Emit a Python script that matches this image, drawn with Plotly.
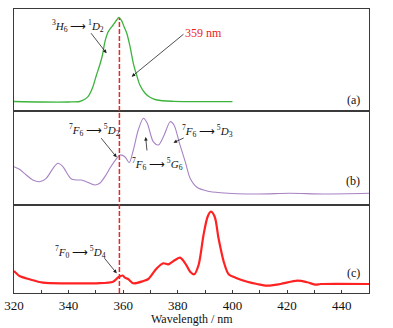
import plotly.graph_objects as go
from plotly.subplots import make_subplots

# ---- data (relative intensity, a.u.) ----
wl_a = [320, 330, 340, 344, 345.9, 347.1, 348.7, 350.2, 351.4, 352.4, 353.3, 354.5,
        356.3, 357.6, 358.4, 359.4, 360.3, 361.3, 362.5, 363.7, 364.9, 366.1, 368.0,
        369.8, 372.3, 378.4, 390, 400]
int_a = [9.5, 9.0, 9.0, 9.5, 11.7, 14.3, 22.7, 36.0, 46.0, 56.0, 69.3, 79.3,
         86.0, 91.0, 93.7, 90.3, 84.3, 77.7, 64.3, 47.7, 36.0, 26.0, 17.7,
         13.7, 11.0, 9.7, 9.3, 9.3]

wl_b = [320, 322.0, 324.5, 326.9, 329.4, 331.8, 334.3, 336.1, 337.9, 339.8, 341.0,
        342.9, 344.7, 346.5, 349.6, 351.4, 353.9, 355.1, 357.6, 358.8, 360.6, 362.2,
        363.7, 365.5, 367.4, 368.8, 371.0, 372.9, 375.0, 377.2, 378.6, 380.6, 382.7,
        384.5, 387.0, 390.7, 395.6, 408.9, 421.1, 433.3, 450]
int_b = [38.3, 35.7, 30.0, 25.0, 23.3, 26.7, 36.7, 41.7, 38.3, 30.0, 26.0,
         25.0, 25.0, 23.3, 20.0, 21.7, 31.0, 36.7, 46.7, 50.0, 48.3, 42.3,
         55.0, 75.0, 86.7, 81.7, 63.3, 60.0, 70.0, 83.3, 80.0, 61.7, 43.3,
         26.7, 17.7, 14.0, 12.3, 11.0, 11.7, 11.0, 11.7]

wl_c = [320, 322, 325.7, 330.6, 339.2, 350.2, 356.3, 358.2, 359.8, 360.6, 361.8, 363.7,
        367.4, 369.2, 372.3, 374.7, 376.5, 379.0, 380.8, 382.7, 384.5, 386.0, 387.6,
        389.4, 390.9, 392.1, 393.5, 394.9, 396.8, 398.6, 401.1, 405.4, 409.0, 412.7,
        417.6, 423.8, 427.4, 430.5, 432.3, 450]
int_c = [22.0, 17.0, 13.7, 10.3, 9.7, 9.7, 11.3, 15.7, 17.5, 15.3, 14.0, 9.7,
         12.0, 14.0, 24.7, 29.7, 28.7, 33.0, 35.3, 29.7, 21.3, 18.7, 28.0,
         58.0, 76.3, 81.3, 76.3, 54.7, 31.3, 18.7, 15.3, 11.3, 9.0, 7.3,
         9.0, 12.3, 10.7, 8.3, 9.0, 9.0]

excitation_nm = 358.6
x_ticks = [320, 340, 360, 380, 400, 420, 440]

SERIF = "Liberation Serif, Times New Roman, serif"
FRAME = "#3a3a3a"

fig = make_subplots(rows=3, cols=1, shared_xaxes=True, vertical_spacing=0,
                    row_heights=[102, 94, 88])

fig.add_trace(go.Scatter(x=wl_a, y=int_a, mode="lines", hoverinfo="skip",
                         line=dict(color="#3cb43c", width=1.3, shape="spline", smoothing=0.8)),
              row=1, col=1)
fig.add_trace(go.Scatter(x=wl_b, y=int_b, mode="lines", hoverinfo="skip",
                         line=dict(color="#a783c4", width=1.1, shape="spline", smoothing=0.8)),
              row=2, col=1)
fig.add_trace(go.Scatter(x=wl_c, y=int_c, mode="lines", hoverinfo="skip",
                         line=dict(color="#ff2222", width=2.2, shape="spline", smoothing=0.8)),
              row=3, col=1)

for r, rng in zip([1, 2, 3], [[0, 102], [0, 94], [0, 88]]):
    fig.update_yaxes(range=rng, showticklabels=False, ticks="", showgrid=False,
                     zeroline=False, showline=True, mirror=True, linecolor=FRAME,
                     linewidth=1, row=r, col=1)
    fig.update_xaxes(range=[320, 450], showgrid=False, zeroline=False, showline=True,
                     mirror=True, linecolor=FRAME, linewidth=1, automargin=False,
                     row=r, col=1)

fig.update_xaxes(showticklabels=False, ticks="", row=1, col=1)
fig.update_xaxes(showticklabels=False, ticks="", row=2, col=1)
fig.update_xaxes(tickvals=x_ticks, ticks="inside", ticklen=3, tickcolor=FRAME,
                 minor=dict(dtick=10, tick0=320, ticks="inside", ticklen=3, tickcolor=FRAME),
                 tickfont=dict(family=SERIF, size=13, color="#111"),
                 row=3, col=1)

# dashed excitation marker
fig.add_shape(type="line", xref="x", yref="paper", x0=excitation_nm, x1=excitation_nm,
              y0=0, y1=0.968, line=dict(color="#e8262b", width=1.5, dash="5px,2px"))

def txt(s, x, y, color="#111", size=11):
    fig.add_annotation(text=s, xref="paper", yref="paper", x=x, y=y, showarrow=False,
                       xanchor="center", yanchor="middle",
                       font=dict(family=SERIF, size=size, color=color))

def arrow(x, y, xref, yref, ax, ay):
    fig.add_annotation(text="", x=x, y=y, xref=xref, yref=yref, ax=ax, ay=ay,
                       showarrow=True, arrowhead=2, arrowsize=0.9, arrowwidth=0.8,
                       arrowcolor="#222")

A = "\u2009\u27f6\u2009"
txt("<sup>3</sup><i>H</i><sub>6</sub>" + A + "<sup>1</sup><i>D</i><sub>2</sub>", 0.179, 0.940)
txt("359 nm", 0.534, 0.915, color="#ee2222", size=12)
txt("<sup>7</sup><i>F</i><sub>6</sub>" + A + "<sup>5</sup><i>D</i><sub>2</sub>", 0.228, 0.574)
txt("<sup>7</sup><i>F</i><sub>6</sub>" + A + "<sup>5</sup><i>G</i><sub>6</sub>", 0.405, 0.455)
txt("<sup>7</sup><i>F</i><sub>6</sub>" + A + "<sup>5</sup><i>D</i><sub>3</sub>", 0.545, 0.569)
txt("<sup>7</sup><i>F</i><sub>0</sub>" + A + "<sup>5</sup><i>D</i><sub>4</sub>", 0.186, 0.144)
txt("(a)", 0.956, 0.680, size=12)
txt("(b)", 0.956, 0.394, size=12)
txt("(c)", 0.956, 0.0715, size=12)
txt("Wavelength / nm", 0.5, -0.09, size=12)

arrow(353.9, 57.7, "x", "y", -16.7, -21.6)
arrow(363.1, 34.3, "x", "y", 53.3, -43.7)
arrow(357.6, 47.7, "x2", "y2", -16.7, -20.6)
arrow(368.2, 68.0, "x2", "y2", 1.5, 15)
arrow(378.4, 62.3, "x2", "y2", 11.7, -5.4)
arrow(357.6, 19.7, "x3", "y3", -13.4, -16.6)

fig.update_layout(width=393, height=328, margin=dict(l=14, r=24, t=9, b=35),
                  paper_bgcolor="white", plot_bgcolor="white", showlegend=False)

fig.write_html("out.html", config={"displayModeBar": False},
               post_script="document.body.style.margin='0px';document.body.style.overflow='hidden';")
